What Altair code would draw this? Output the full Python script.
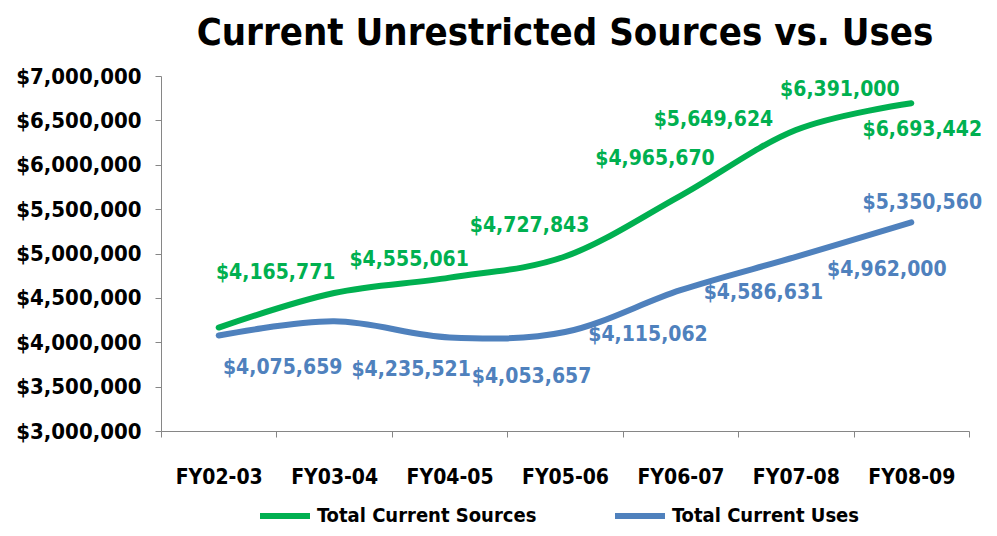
import altair as alt
import pandas as pd

years = ["FY02-03", "FY03-04", "FY04-05", "FY05-06", "FY06-07", "FY07-08", "FY08-09"]
sources = [4165771, 4555061, 4727843, 4965670, 5649624, 6391000, 6693442]
uses = [4075659, 4235521, 4053657, 4115062, 4586631, 4962000, 5350560]
series_names = ["Total Current Sources", "Total Current Uses"]
series_colors = ["#00B050", "#4F81BD"]
y_ticks = [3000000, 3500000, 4000000, 4500000, 5000000, 5500000, 6000000, 6500000, 7000000]

# pixel nudges of each data label from its point (label placement only)
src_dx = [57, 75, 80, 90, 33, 44, 11]
src_dy = [-55, -33, -52, -98, -76, -40, 27]
use_dx = [64, 77, 82, 83, 83, 91, 11]
use_dy = [32, 49, 40, 3, 3, 13, -19]

FONT = "DejaVu Sans Condensed, sans-serif"
AXIS_GRAY = "#868686"

df = pd.DataFrame({
    "year": years * 2,
    "value": sources + uses,
    "series": [series_names[0]] * len(years) + [series_names[1]] * len(years),
})

x_enc = alt.X(
    "year:N", sort=years,
    scale=alt.Scale(type="band", domain=years, paddingInner=0, paddingOuter=0),
    axis=alt.Axis(title=None, labelAngle=0, tickBand="extent", tickSize=6,
                  labelFont=FONT, labelFontSize=21, labelFontWeight="bold",
                  labelColor="black", labelPadding=29, domainColor=AXIS_GRAY,
                  tickColor=AXIS_GRAY, grid=False),
)
y_enc = alt.Y(
    "value:Q",
    scale=alt.Scale(domain=[3000000, 7000000], nice=False, zero=False),
    axis=alt.Axis(title=None, values=y_ticks, format="$,.0f", tickSize=6,
                  labelFont=FONT, labelFontSize=22, labelFontWeight="bold",
                  labelColor="black", labelPadding=14, domainColor=AXIS_GRAY,
                  tickColor=AXIS_GRAY, grid=False, minExtent=148, maxExtent=148),
)

lines = alt.Chart(df).mark_line(strokeWidth=6, interpolate="cardinal", strokeCap="round").encode(
    x=x_enc,
    y=y_enc,
    color=alt.Color(
        "series:N",
        scale=alt.Scale(domain=series_names, range=series_colors),
        legend=alt.Legend(title=None, orient="none", legendX=96, legendY=412,
                          direction="horizontal", symbolType="stroke",
                          symbolSize=2500, symbolStrokeWidth=6,
                          labelFont=FONT, labelFontSize=20, labelFontWeight="bold",
                          labelColor="black", columnPadding=66, labelLimit=400,
                          symbolOffset=0),
    ),
)

layers = [lines]
for si, (vals, dxs, dys) in enumerate([(sources, src_dx, src_dy), (uses, use_dx, use_dy)]):
    for i, yr in enumerate(years):
        d = pd.DataFrame({"year": [yr], "value": [vals[i]]})
        layers.append(
            alt.Chart(d).mark_text(
                font=FONT, fontSize=21, fontWeight="bold", color=series_colors[si],
                align="center", baseline="middle", dx=dxs[i], dy=dys[i],
            ).encode(
                x=alt.X("year:N", sort=years),
                y=alt.Y("value:Q"),
                text=alt.Text("value:Q", format="$,.0f"),
            )
        )

chart = alt.layer(*layers).properties(
    width=808,
    height=355,
    title=alt.TitleParams("Current Unrestricted Sources vs. Uses", font=FONT,
                          fontSize=38, fontWeight="bold", color="black",
                          anchor="middle", offset=12),
    autosize=alt.AutoSizeParams(type="none"),
    padding={"left": 153, "top": 68, "right": 20, "bottom": 97},
).configure_view(stroke=None)

chart.save("out.html", embed_options={"renderer": "svg", "actions": False})
